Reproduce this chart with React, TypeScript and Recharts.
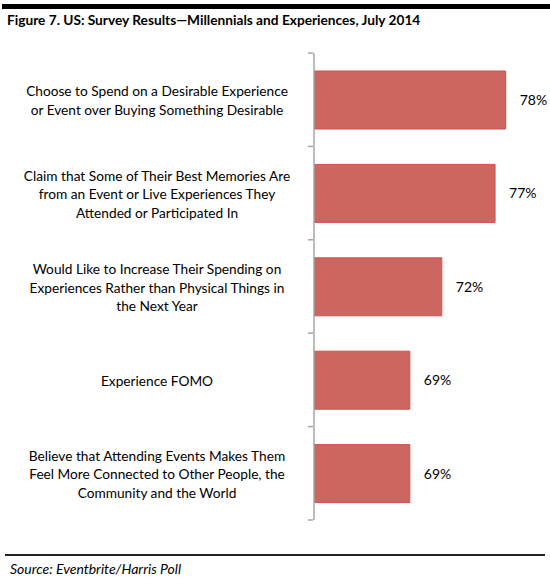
import React from 'react';
import { BarChart, Bar, XAxis, YAxis, LabelList } from 'recharts';

const categories = [
  'Choose to Spend on a Desirable Experience\nor Event over Buying Something Desirable',
  'Claim that Some of Their Best Memories Are\nfrom an Event or Live Experiences They\nAttended or Participated In',
  'Would Like to Increase Their Spending on\nExperiences Rather than Physical Things in\nthe Next Year',
  'Experience FOMO',
  'Believe that Attending Events Makes Them\nFeel More Connected to Other People, the\nCommunity and the World',
];
const values = [78, 77, 72, 69, 69];
const valueDomain = [60, 80];

const data = categories.map((name, i) => ({ name, value: values[i] }));

const FONT = 'Lato, "Open Sans", sans-serif';
const C = {
  bar: '#CD6661',
  barEdge: '#D2514C',
  axis: '#A6A6A6',
  text: '#000',
};

const CHART_H = 540;
const M = { top: 53, right: 23, bottom: 20, left: 0 };
const AXIS_W = 314;
const BAND = (CHART_H - M.top - M.bottom) / categories.length;

// multi-line category label + small tick marks on the band edges
function CategoryTick({ x, y, payload, index }: any) {
  const lines = String(payload.value).split('\n');
  const lh = 18.5;
  const y0 = y - ((lines.length - 1) * lh) / 2;
  const cx = AXIS_W / 2;
  return (
    <g>
      <line x1={x - 4} x2={x + 1} y1={y - BAND / 2} y2={y - BAND / 2} stroke={C.axis} strokeWidth={1.5} />
      {index === categories.length - 1 && (
        <line x1={x - 4} x2={x + 1} y1={y + BAND / 2} y2={y + BAND / 2} stroke={C.axis} strokeWidth={1.5} />
      )}
      <text x={cx} y={y0} textAnchor="middle" dominantBaseline="central" fontFamily={FONT} fontSize={13.7} fill={C.text}>
        {lines.map((l, i) => (
          <tspan key={i} x={cx} y={y0 + i * lh}>
            {l}
          </tspan>
        ))}
      </text>
    </g>
  );
}

export default function App() {
  return (
    <div style={{ position: 'absolute', left: 0, top: 0, width: 550, height: 581, background: '#fff', fontFamily: FONT }}>
      <div style={{ position: 'absolute', left: 2, right: 0, top: 4, height: 5, background: '#000' }} />
      <div style={{ position: 'absolute', left: 7, top: 11, fontSize: 13.7, fontWeight: 700, color: '#000', whiteSpace: 'nowrap' }}>
        Figure 7. US: Survey Results—Millennials and Experiences, July 2014
      </div>

      <div style={{ position: 'absolute', left: 0, top: 0 }}>
        <BarChart width={550} height={CHART_H} data={data} layout="vertical" margin={M}>
          <XAxis type="number" domain={valueDomain} hide allowDataOverflow />
          <YAxis
            type="category"
            dataKey="name"
            width={AXIS_W}
            axisLine={{ stroke: C.axis, strokeWidth: 1.5 }}
            tickLine={false}
            tickSize={0}
            tick={<CategoryTick />}
            interval={0}
          />
          <Bar
            dataKey="value"
            fill={C.bar}
            stroke={C.barEdge}
            strokeWidth={1}
            barSize={58}
            isAnimationActive={false}
          >
            <LabelList
              dataKey="value"
              position="right"
              offset={14}
              formatter={(v: any) => `${v}%`}
              style={{ fontFamily: FONT, fontSize: 14, fill: C.text }}
            />
          </Bar>
        </BarChart>
      </div>

      <div style={{ position: 'absolute', left: 5, right: 5, top: 554, height: 2, background: '#222' }} />
      <div style={{ position: 'absolute', left: 10, top: 560, fontSize: 14, fontStyle: 'italic', color: '#000', whiteSpace: 'nowrap' }}>
        Source: Eventbrite/Harris Poll
      </div>
    </div>
  );
}
